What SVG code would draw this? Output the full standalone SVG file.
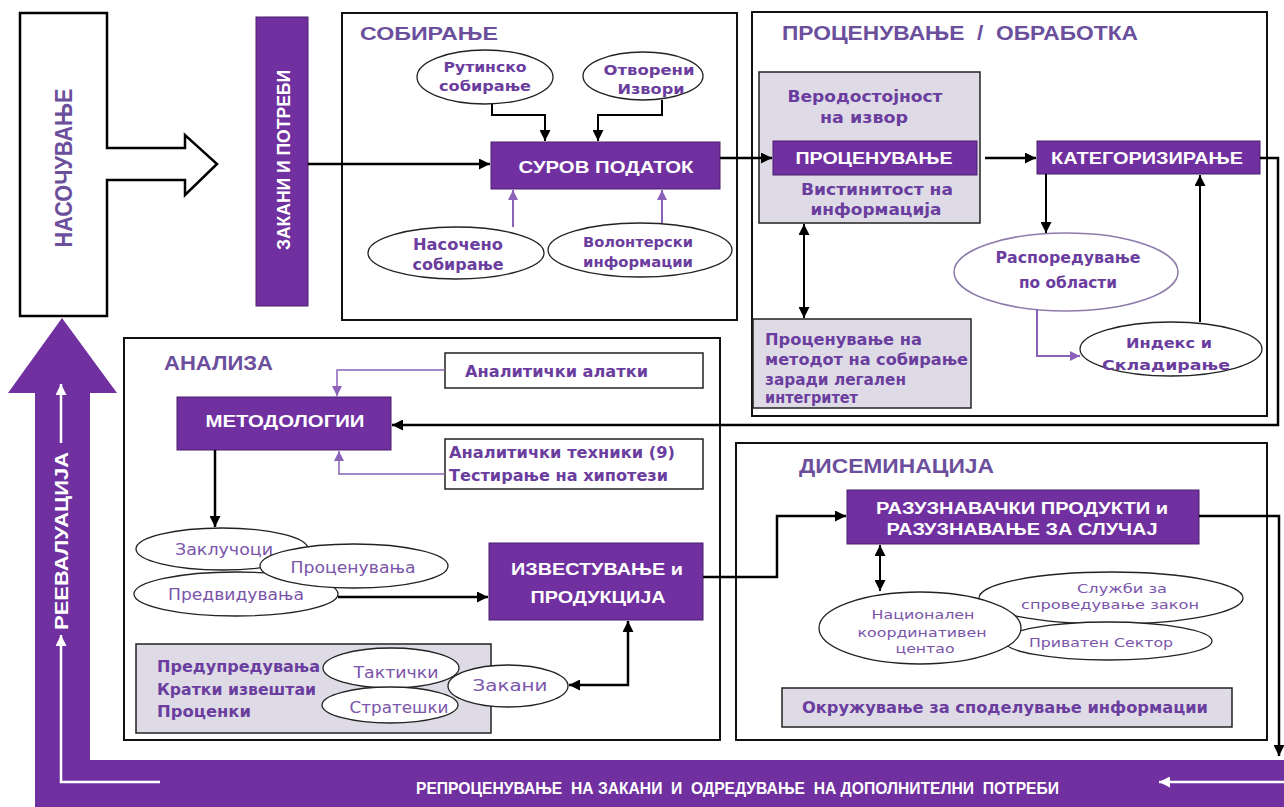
<svg xmlns="http://www.w3.org/2000/svg" width="1284" height="807" viewBox="0 0 1284 807">
<style>
.c{fill:#fff;stroke:#111;stroke-width:2}
.n{fill:#7030a0;stroke:#4a1f6e;stroke-width:1}
.g{fill:#dedbe6;stroke:#222;stroke-width:1.5}
.w{fill:#fff;stroke:#222;stroke-width:1.5}
.e{fill:#fff;stroke:#222;stroke-width:1.3}
.ep{fill:#fff;stroke:#8c7bab;stroke-width:1.5}
.k{fill:none;stroke:#000;stroke-width:2.5}
.p{fill:none;stroke:#8a62b8;stroke-width:2}
.wl{fill:none;stroke:#fff;stroke-width:2.5}
text{font-family:"DejaVu Sans","Liberation Sans",sans-serif}
.ttl{font-family:"Liberation Sans",Arial,sans-serif;font-weight:bold;fill:#6b4f9c}
.wh{font-family:"Liberation Sans",Arial,sans-serif;font-weight:bold;fill:#fff}
.pb{font-weight:bold;fill:#6a3d9e}
.pr{fill:#7a55aa}
</style>
<defs>
<marker id="ak" viewBox="0 0 10 10" refX="10" refY="5" markerWidth="12" markerHeight="11" markerUnits="userSpaceOnUse" orient="auto-start-reverse"><path d="M0,0L10,5L0,10z" fill="#000"/></marker>
<marker id="ap" viewBox="0 0 10 10" refX="10" refY="5" markerWidth="11" markerHeight="10" markerUnits="userSpaceOnUse" orient="auto-start-reverse"><path d="M0,0L10,5L0,10z" fill="#8a62b8"/></marker>
<marker id="aw" viewBox="0 0 10 10" refX="10" refY="5" markerWidth="12" markerHeight="11" markerUnits="userSpaceOnUse" orient="auto-start-reverse"><path d="M0,0L10,5L0,10z" fill="#fff"/></marker>
</defs>
<rect width="1284" height="807" fill="#fff"/>

<g id="reevaluation">
<polygon points="62,318 117,393 90,393 90,760 1284,760 1284,807 35,807 35,393 8,393" fill="#7030a0"/>
<path class="wl" d="M61,443V384" marker-end="url(#aw)"/>
<path class="wl" d="M160,782H61V635" marker-end="url(#aw)"/>
<path class="wl" d="M1284,782H1159" marker-end="url(#aw)"/>
<text class="wh" transform="translate(68,541) rotate(-90)" text-anchor="middle" font-size="19" textLength="178" lengthAdjust="spacingAndGlyphs">РЕЕВАЛУАЦИЈА</text>
<text class="wh" x="416" y="794" font-size="17" textLength="643" lengthAdjust="spacingAndGlyphs" xml:space="preserve">РЕПРОЦЕНУВАЊЕ  НА ЗАКАНИ  И  ОДРЕДУВАЊЕ  НА ДОПОЛНИТЕЛНИ  ПОТРЕБИ</text>
</g>

<g id="nasocuvanje">
<path d="M20,13H107V148H185V135L217,164L185,195V180H107V316H20Z" fill="#fff" stroke="#000" stroke-width="2.5"/>
<text class="ttl" transform="translate(72,168) rotate(-90)" text-anchor="middle" font-size="23" textLength="159" lengthAdjust="spacingAndGlyphs" fill="#6a3d9e">НАСОЧУВАЊЕ</text>
</g>

<g id="zakani-potrebi">
<rect class="n" x="256" y="17" width="52" height="289"/>
<text class="wh" transform="translate(290,160) rotate(-90)" text-anchor="middle" font-size="19" textLength="180" lengthAdjust="spacingAndGlyphs">ЗАКАНИ И ПОТРЕБИ</text>
</g>

<g id="sobiranje">
<rect class="c" x="342" y="13" width="395" height="307"/>
<text class="ttl" x="360" y="40" font-size="19" textLength="138" lengthAdjust="spacingAndGlyphs">СОБИРАЊЕ</text>
</g>
<g id="rutinsko">
<ellipse class="e" cx="485" cy="77" rx="68" ry="27"/>
<text class="pb" x="485" y="72" font-size="14" text-anchor="middle" textLength="83" lengthAdjust="spacingAndGlyphs">Рутинско</text>
<text class="pb" x="485" y="91" font-size="14" text-anchor="middle" textLength="92" lengthAdjust="spacingAndGlyphs">собирање</text>
</g>
<g id="otvoreni">
<ellipse class="e" cx="643" cy="76" rx="60" ry="24"/>
<text class="pb" x="649" y="75" font-size="14" text-anchor="middle" textLength="91" lengthAdjust="spacingAndGlyphs">Отворени</text>
<text class="pb" x="651" y="94" font-size="14" text-anchor="middle" textLength="67" lengthAdjust="spacingAndGlyphs">Извори</text>
</g>
<g id="surov">
<rect class="n" x="491" y="142" width="229" height="47"/>
<text class="wh" x="606" y="173" font-size="16.5" text-anchor="middle" textLength="175" lengthAdjust="spacingAndGlyphs">СУРОВ ПОДАТОК</text>
</g>
<g id="nasoceno">
<ellipse class="e" cx="456" cy="253" rx="88" ry="26"/>
<text class="pb" x="458" y="250" font-size="15" text-anchor="middle" textLength="90" lengthAdjust="spacingAndGlyphs">Насочено</text>
<text class="pb" x="458" y="270" font-size="15" text-anchor="middle" textLength="91" lengthAdjust="spacingAndGlyphs">собирање</text>
</g>
<g id="volonterski">
<ellipse class="e" cx="640" cy="250" rx="92" ry="27"/>
<text class="pb" x="638" y="247" font-size="14" text-anchor="middle" textLength="110" lengthAdjust="spacingAndGlyphs">Волонтерски</text>
<text class="pb" x="638" y="267" font-size="14" text-anchor="middle" textLength="110" lengthAdjust="spacingAndGlyphs">информации</text>
</g>

<g id="procenuvanje-obrabotka">
<rect class="c" x="752" y="12" width="515" height="404"/>
<text class="ttl" x="782" y="40" font-size="20" textLength="356" lengthAdjust="spacingAndGlyphs" xml:space="preserve">ПРОЦЕНУВАЊЕ  /  ОБРАБОТКА</text>
</g>
<g id="verodostojnost">
<rect class="g" x="759" y="72" width="221" height="151"/>
<text class="pb" x="865" y="102" font-size="15" text-anchor="middle" textLength="155" lengthAdjust="spacingAndGlyphs">Веродостојност</text>
<text class="pb" x="864" y="123" font-size="15" text-anchor="middle" textLength="88" lengthAdjust="spacingAndGlyphs">на извор</text>
<text class="pb" x="877" y="195" font-size="15" text-anchor="middle" textLength="152" lengthAdjust="spacingAndGlyphs">Вистинитост на</text>
<text class="pb" x="876" y="215" font-size="15" text-anchor="middle" textLength="131" lengthAdjust="spacingAndGlyphs">информација</text>
</g>
<g id="procenuvanje">
<rect class="n" x="773" y="141" width="204" height="34"/>
<text class="wh" x="874" y="164" font-size="16" text-anchor="middle" textLength="157" lengthAdjust="spacingAndGlyphs">ПРОЦЕНУВАЊЕ</text>
</g>
<g id="kategorizirane">
<rect class="n" x="1037" y="141" width="223" height="33"/>
<text class="wh" x="1147" y="164" font-size="16" text-anchor="middle" textLength="192" lengthAdjust="spacingAndGlyphs">КАТЕГОРИЗИРАЊЕ</text>
</g>
<g id="rasporeduvanje">
<ellipse class="ep" cx="1066" cy="272" rx="112" ry="39"/>
<text class="pb" x="1068" y="263" font-size="15" text-anchor="middle" textLength="145" lengthAdjust="spacingAndGlyphs">Распоредување</text>
<text class="pb" x="1068" y="288" font-size="15" text-anchor="middle" textLength="98" lengthAdjust="spacingAndGlyphs">по области</text>
</g>
<g id="indeks">
<ellipse class="e" cx="1171" cy="349" rx="91" ry="27"/>
<text class="pb" x="1169" y="348" font-size="14" text-anchor="middle" textLength="86" lengthAdjust="spacingAndGlyphs">Индекс и</text>
<text class="pb" x="1166" y="370" font-size="14" text-anchor="middle" textLength="128" lengthAdjust="spacingAndGlyphs">Складирање</text>
</g>
<g id="metodot">
<rect class="g" x="753" y="319" width="218" height="89"/>
<text class="pb" x="765" y="345" font-size="15" textLength="157" lengthAdjust="spacingAndGlyphs">Проценување на</text>
<text class="pb" x="765" y="365" font-size="15" textLength="203" lengthAdjust="spacingAndGlyphs">методот на собирање</text>
<text class="pb" x="765" y="385" font-size="15" textLength="141" lengthAdjust="spacingAndGlyphs">заради легален</text>
<text class="pb" x="765" y="403" font-size="15" textLength="93" lengthAdjust="spacingAndGlyphs">интегритет</text>
</g>

<g id="analiza">
<rect class="c" x="124" y="338" width="596" height="402"/>
<text class="ttl" x="164" y="370" font-size="20" textLength="109" lengthAdjust="spacingAndGlyphs">АНАЛИЗА</text>
</g>
<g id="alatki">
<rect class="w" x="445" y="353" width="258" height="35"/>
<text class="pb" x="465" y="377" font-size="15" textLength="183" lengthAdjust="spacingAndGlyphs">Аналитички алатки</text>
</g>
<g id="metodologii">
<rect class="n" x="177" y="397" width="214" height="53"/>
<text class="wh" x="285" y="427" font-size="17" text-anchor="middle" textLength="159" lengthAdjust="spacingAndGlyphs">МЕТОДОЛОГИИ</text>
</g>
<g id="tehniki">
<rect class="w" x="445" y="439" width="258" height="50"/>
<text class="pb" x="449" y="458" font-size="15" textLength="226" lengthAdjust="spacingAndGlyphs">Аналитички техники (9)</text>
<text class="pb" x="449" y="481" font-size="15" textLength="219" lengthAdjust="spacingAndGlyphs">Тестирање на хипотези</text>
</g>
<g id="zaklucoci">
<ellipse class="e" cx="222" cy="549" rx="86" ry="21"/>
<text class="pr" x="224" y="555" font-size="15" text-anchor="middle" textLength="98" lengthAdjust="spacingAndGlyphs">Заклучоци</text>
</g>
<g id="predviduvanja">
<ellipse class="e" cx="236" cy="594" rx="102" ry="22"/>
<text class="pr" x="236" y="600" font-size="15" text-anchor="middle" textLength="136" lengthAdjust="spacingAndGlyphs">Предвидувања</text>
</g>
<g id="procenuvanja">
<ellipse class="e" cx="354" cy="566" rx="94" ry="22"/>
<text class="pr" x="353" y="573" font-size="15" text-anchor="middle" textLength="125" lengthAdjust="spacingAndGlyphs">Проценувања</text>
</g>
<g id="izvestuvanje">
<rect class="n" x="489" y="543" width="214" height="77"/>
<text class="wh" x="597" y="575" font-size="16.5" text-anchor="middle" textLength="172" lengthAdjust="spacingAndGlyphs">ИЗВЕСТУВАЊЕ и</text>
<text class="wh" x="598" y="603" font-size="16.5" text-anchor="middle" textLength="135" lengthAdjust="spacingAndGlyphs">ПРОДУКЦИЈА</text>
</g>
<g id="predupreduvanja">
<rect class="g" x="136" y="644" width="355" height="89"/>
<text class="pb" x="157" y="672" font-size="15" textLength="163" lengthAdjust="spacingAndGlyphs">Предупредувања</text>
<text class="pb" x="157" y="695" font-size="15" textLength="159" lengthAdjust="spacingAndGlyphs">Кратки извештаи</text>
<text class="pb" x="157" y="717" font-size="15" textLength="94" lengthAdjust="spacingAndGlyphs">Проценки</text>
</g>
<g id="takticki">
<ellipse class="e" cx="391" cy="668" rx="68" ry="20"/>
<text class="pr" x="396" y="678" font-size="15" text-anchor="middle" textLength="85" lengthAdjust="spacingAndGlyphs">Тактички</text>
</g>
<g id="strateski">
<ellipse class="e" cx="390" cy="705" rx="68" ry="18"/>
<text class="pr" x="399" y="713" font-size="15" text-anchor="middle" textLength="99" lengthAdjust="spacingAndGlyphs">Стратешки</text>
</g>
<g id="zakani">
<ellipse class="e" cx="508" cy="686" rx="60" ry="21"/>
<text class="pr" x="510" y="691" font-size="15" text-anchor="middle" textLength="75" lengthAdjust="spacingAndGlyphs">Закани</text>
</g>

<g id="diseminacija">
<rect class="c" x="736" y="443" width="531" height="297"/>
<text class="ttl" x="799" y="473" font-size="20" textLength="195" lengthAdjust="spacingAndGlyphs">ДИСЕМИНАЦИЈА</text>
</g>
<g id="razuznavacki">
<rect class="n" x="847" y="490" width="352" height="54"/>
<text class="wh" x="1022" y="514" font-size="16" text-anchor="middle" textLength="292" lengthAdjust="spacingAndGlyphs">РАЗУЗНАВАЧКИ ПРОДУКТИ и</text>
<text class="wh" x="1022" y="535" font-size="16" text-anchor="middle" textLength="271" lengthAdjust="spacingAndGlyphs">РАЗУЗНАВАЊЕ ЗА СЛУЧАЈ</text>
</g>
<g id="sluzbi">
<ellipse class="e" cx="1111" cy="598" rx="132" ry="26"/>
<text class="pr" x="1122" y="593" font-size="13" text-anchor="middle" textLength="90" lengthAdjust="spacingAndGlyphs">Служби за</text>
<text class="pr" x="1110" y="609" font-size="13" text-anchor="middle" textLength="178" lengthAdjust="spacingAndGlyphs">спроведување закон</text>
</g>
<g id="privaten">
<ellipse class="e" cx="1108" cy="641" rx="104" ry="19"/>
<text class="pr" x="1101" y="647" font-size="13" text-anchor="middle" textLength="144" lengthAdjust="spacingAndGlyphs">Приватен Сектор</text>
</g>
<g id="nacionalen">
<ellipse class="e" cx="920" cy="628" rx="101" ry="36"/>
<text class="pr" x="923" y="619" font-size="13" text-anchor="middle" textLength="103" lengthAdjust="spacingAndGlyphs">Национален</text>
<text class="pr" x="922" y="637" font-size="13" text-anchor="middle" textLength="129" lengthAdjust="spacingAndGlyphs">координативен</text>
<text class="pr" x="925" y="653" font-size="13" text-anchor="middle" textLength="59" lengthAdjust="spacingAndGlyphs">центао</text>
</g>
<g id="okruzuvanje">
<rect class="g" x="782" y="688" width="450" height="39"/>
<text class="pb" x="1005" y="713" font-size="16" text-anchor="middle" textLength="406" lengthAdjust="spacingAndGlyphs">Окружување за споделување информации</text>
</g>

<g id="connectors">
<path class="k" d="M308,164H490" marker-end="url(#ak)"/>
<path class="k" style="stroke-width:2" d="M492,104V115H545V141" marker-end="url(#ak)"/>
<path class="k" style="stroke-width:2" d="M662,100V115H598V141" marker-end="url(#ak)"/>
<path class="p" d="M513,227V190" marker-end="url(#ap)"/>
<path class="p" d="M662,223V190" marker-end="url(#ap)"/>
<path class="k" d="M720,158H772" marker-end="url(#ak)"/>
<path class="k" d="M985,158H1036" marker-end="url(#ak)"/>
<path class="k" style="stroke-width:2" d="M1046,174V233" marker-end="url(#ak)"/>
<path class="p" d="M1037,309V356H1080" marker-end="url(#ap)"/>
<path class="k" style="stroke-width:2" d="M1200,322V175" marker-end="url(#ak)"/>
<path class="k" style="stroke-width:2" d="M804,224V318" marker-start="url(#ak)" marker-end="url(#ak)"/>
<path class="k" d="M1260,158H1278V425H392" marker-end="url(#ak)"/>
<path class="p" style="stroke-width:1.5" d="M445,370H337V396" marker-end="url(#ap)"/>
<path class="p" style="stroke-width:1.5" d="M445,474H339V451" marker-end="url(#ap)"/>
<path class="k" d="M215,450V527" marker-end="url(#ak)"/>
<path class="k" d="M338,597H488" marker-end="url(#ak)"/>
<path class="k" d="M569,685H628V621" marker-start="url(#ak)" marker-end="url(#ak)"/>
<path class="k" d="M703,577H777V516H846" marker-end="url(#ak)"/>
<path class="k" style="stroke-width:2" d="M880,545V591" marker-start="url(#ak)" marker-end="url(#ak)"/>
<path class="k" d="M1199,516H1279V756" marker-end="url(#ak)"/>
</g>
</svg>
